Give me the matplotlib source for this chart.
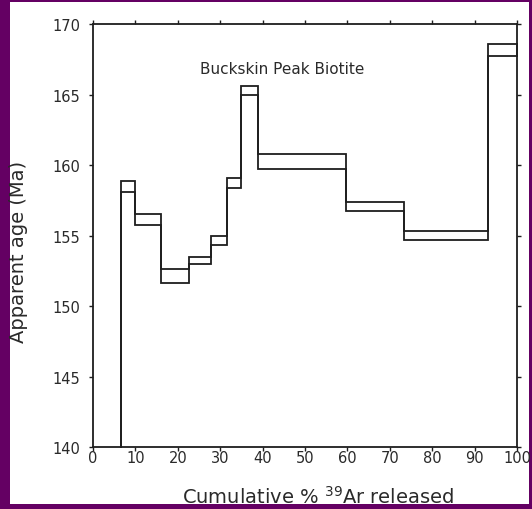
import matplotlib
matplotlib.use("Agg")
import matplotlib.pyplot as plt
from matplotlib.patches import Rectangle

# Step-heating spectrum: step boundaries (cumulative % 39Ar released)
step_edges = [6.6, 9.9, 16.0, 22.7, 27.9, 31.7, 34.8, 39.0, 59.6, 73.4, 93.2, 100.0]
# lower / upper bounds of the apparent age for each step (Ma)
age_low = [158.10, 155.75, 151.65, 152.95, 154.35, 158.40, 164.95, 159.75, 156.75, 154.70, 167.75]
age_high = [158.85, 156.55, 152.60, 153.50, 154.95, 159.05, 165.60, 160.75, 157.35, 155.30, 168.60]

x_ticks = [0, 10, 20, 30, 40, 50, 60, 70, 80, 90, 100]
y_ticks = [140, 145, 150, 155, 160, 165, 170]
sample_name = "Buckskin Peak Biotite"

W, H = 532, 510
fig = plt.figure(figsize=(W / 100, H / 100), dpi=100)
fig.patch.set_facecolor("#640063")
# white page inside the coloured frame
fig.add_artist(Rectangle((10 / W, 1 - 505 / H), (529 - 10) / W, (505 - 3) / H,
                         transform=fig.transFigure, facecolor="white",
                         edgecolor="none", zorder=-5))

ax = fig.add_axes([93 / W, 1 - 448 / H, (517 - 93) / W, (448 - 25) / H])
ax.set_facecolor("white")
ax.set_xlim(x_ticks[0], x_ticks[-1])
ax.set_ylim(y_ticks[0], y_ticks[-1])

line_col = "#1e1e1e"
text_col = "#2a2a2a"


def step_path(edges, ages, y0):
    xs = [edges[0]]
    ys = [y0]
    for i, a in enumerate(ages):
        xs += [edges[i], edges[i + 1]]
        ys += [a, a]
    return xs, ys


for ages in (age_low, age_high):
    xs, ys = step_path(step_edges, ages, y_ticks[0])
    ax.plot(xs, ys, color=line_col, lw=1.3, solid_joinstyle="miter", clip_on=False)
# closing edge of the last step
ax.plot([step_edges[-1], step_edges[-1]], [age_low[-1], age_high[-1]],
        color=line_col, lw=1.3, clip_on=False)

ax.text(44.6, 166.85, sample_name, ha="center", va="center", fontsize=11,
        color=text_col)

for s in ax.spines.values():
    s.set_linewidth(1.3)
    s.set_color(line_col)

ax.set_xticks(x_ticks)
ax.set_yticks(y_ticks)
ax.tick_params(direction="out", length=3, width=1.0, colors=line_col,
               top=True, right=True, labeltop=False, labelright=False,
               labelsize=10.5, labelcolor=text_col)
ax.tick_params(axis="x", pad=-0.5)
ax.tick_params(axis="y", pad=6)

fig.text(318 / W, 1 - 497 / H, r"Cumulative % $^{39}$Ar released", ha="center", va="center",
         fontsize=14, color=text_col)
fig.text(18.5 / W, 1 - 252 / H, "Apparent age (Ma)", ha="center", va="center",
         rotation=90, fontsize=14, color=text_col)

fig.savefig("out.png", dpi=100, facecolor=fig.get_facecolor())
